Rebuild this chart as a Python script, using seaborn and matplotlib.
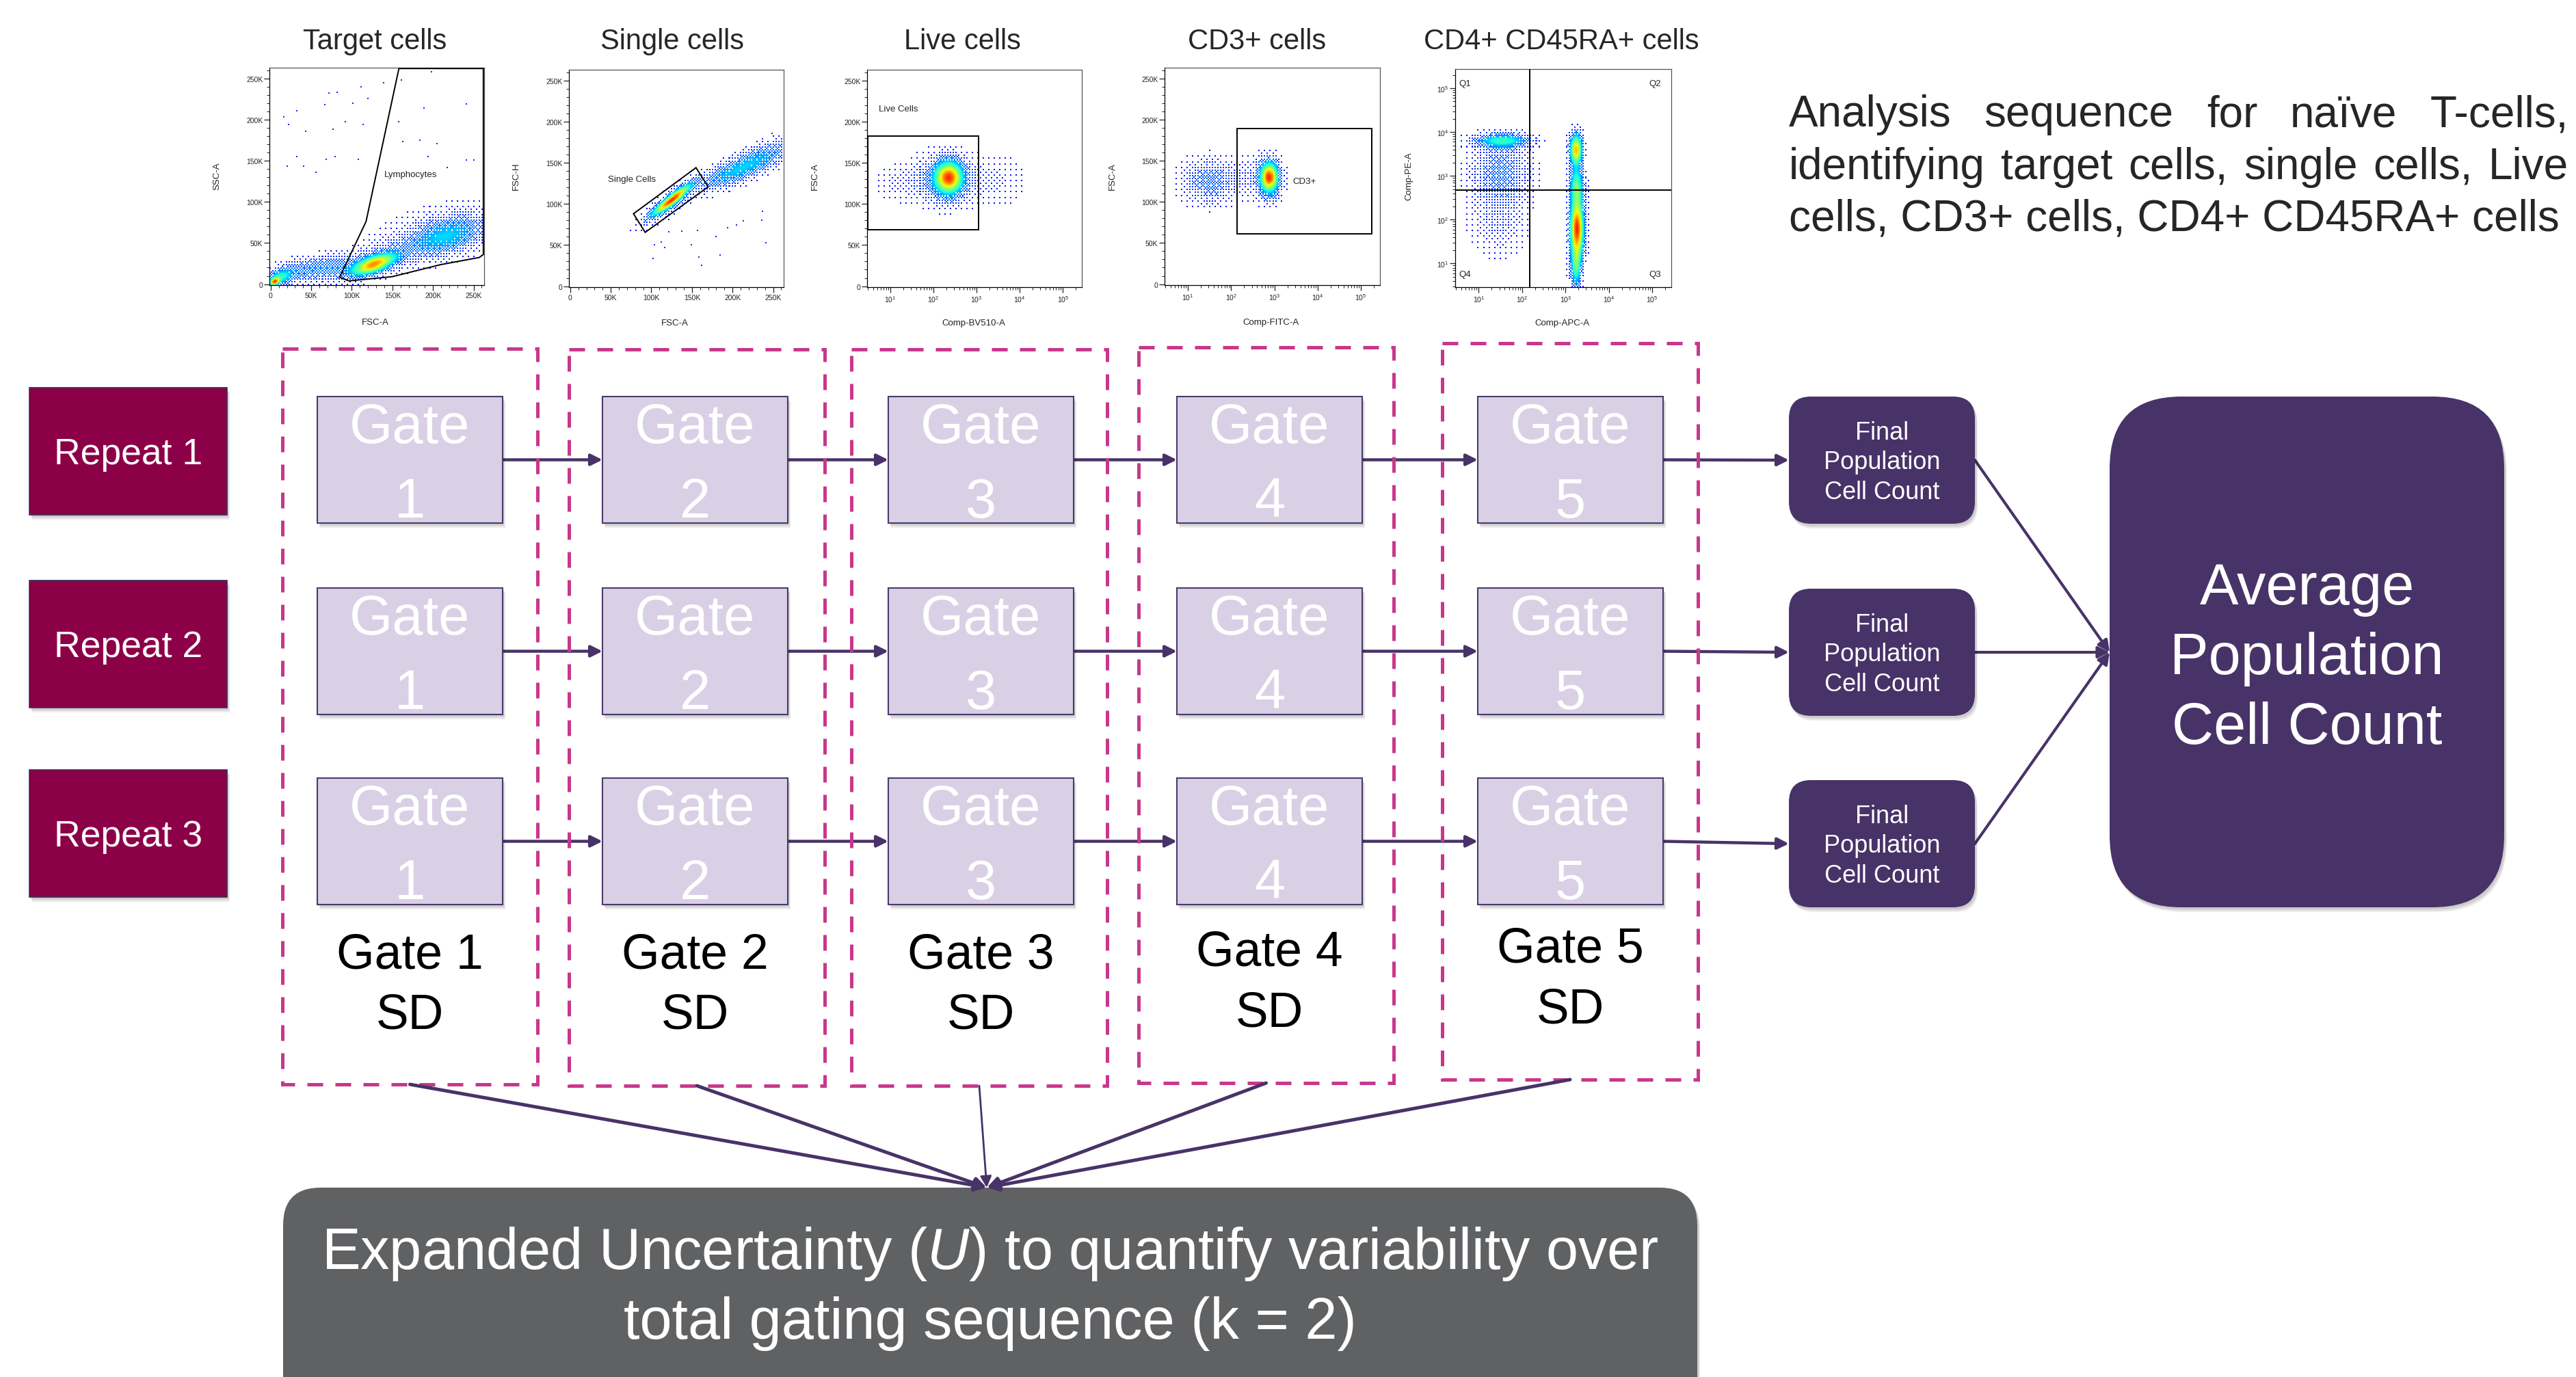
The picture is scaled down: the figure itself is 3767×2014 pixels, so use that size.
import numpy as np
import matplotlib
matplotlib.use("Agg")
import matplotlib.pyplot as plt
import seaborn as sns
from matplotlib.patches import Rectangle, FancyBboxPatch, Polygon
from matplotlib.ticker import (MultipleLocator, FuncFormatter, LogLocator,
                               LogFormatterMathtext, NullFormatter)

# ------------------------------------------------------------------ data
repeat_labels = ["Repeat 1", "Repeat 2", "Repeat 3"]
gate_numbers = ["1", "2", "3", "4", "5"]
sd_titles = ["Gate 1", "Gate 2", "Gate 3", "Gate 4", "Gate 5"]
final_label = ["Final", "Population", "Cell Count"]
average_label = ["Average", "Population", "Cell Count"]
uncertainty_label = [r"Expanded Uncertainty ($\mathit{U}$) to quantify variability over",
                     "total gating sequence (k = 2)"]
description_lines = [
    "Analysis sequence for naïve T-cells,",
    "identifying target cells, single cells, Live",
    "cells, CD3+ cells, CD4+ CD45RA+ cells",
]

panel_titles = ["Target cells", "Single cells", "Live cells", "CD3+ cells", "CD4+ CD45RA+ cells"]
panel_xlabels = ["FSC-A", "FSC-A", "Comp-BV510-A", "Comp-FITC-A", "Comp-APC-A"]
panel_ylabels = ["SSC-A", "FSC-H", "FSC-A", "FSC-A", "Comp-PE-A"]
panel_xlog = [False, False, True, True, True]
panel_ylog = [False, False, False, False, True]

# event populations: centre x, centre y, sd x, sd y, correlation, relative peak
# (linear channels in thousands, log channels in decades)
target_pops = np.array([
    [5, 3, 4, 3, 0.3, 1.0],
    [12, 9, 10, 6, 0.3, 0.40],
    [40, 17, 22, 9, 0.3, 0.18],
    [78, 21, 18, 9, 0.2, 0.15],
    [127, 24, 17, 8, 0.63, 0.95],
    [132, 30, 28, 14, 0.5, 0.12],
    [215, 58, 28, 14, 0.45, 0.30],
    [205, 62, 45, 22, 0.4, 0.06],
])
singlet_pops = np.array([
    [125, 105, 14.5, 11.2, 0.92, 1.0],
    [125, 103, 21.2, 16.6, 0.86, 0.15],
    [225, 150, 27.4, 15.1, 0.76, 0.28],
    [190, 135, 20, 12, 0.70, 0.14],
])
live_pops = np.array([
    [2.35, 132, 0.20, 12, 0.0, 1.0],
    [2.25, 130, 0.42, 18, 0.0, 0.16],
    [3.45, 128, 0.45, 20, 0.0, 0.035],
    [1.20, 125, 0.35, 14, 0.0, 0.035],
])
cd3_pops = np.array([
    [1.50, 125, 0.38, 16, 0.0, 0.16],
    [2.88, 130, 0.12, 11, 0.0, 1.0],
    [2.85, 128, 0.20, 16, 0.0, 0.18],
    [2.30, 130, 0.20, 18, 0.0, 0.04],
])
cd4_pops = np.array([
    [1.55, 3.80, 0.38, 0.10, 0.0, 0.35],
    [1.50, 3.10, 0.40, 0.45, 0.0, 0.12],
    [1.45, 2.00, 0.40, 0.50, 0.0, 0.05],
    [3.25, 3.60, 0.09, 0.22, 0.0, 0.75],
    [3.26, 2.75, 0.10, 0.30, 0.0, 0.45],
    [3.27, 1.80, 0.10, 0.40, 0.0, 0.95],
    [3.25, 0.95, 0.08, 0.30, 0.0, 0.40],
])

# isolated events (K units)
target_sparse_x = [16, 22.5, 32, 43, 67, 72, 82, 101, 111, 119.5, 139.5, 92, 114, 77, 32, 41, 20,
                   79.5, 108, 55.5, 68, 161, 189, 241.5, 198, 158, 162.6, 184, 205, 250, 241.5,
                   193.6, 217.6]
target_sparse_y = [203, 194, 211, 186, 218, 232, 233, 220, 240, 226, 244.5, 197, 194, 188, 155, 143,
                   143, 155, 152, 136, 152, 248, 214, 219, 258, 197, 173, 175, 171, 151, 151, 155, 142]
singlet_sparse_x = [102.5, 104, 112, 116.6, 121.6, 137.6, 149, 158.7, 161.5, 157, 180, 185, 194, 205,
                    213, 236, 241, 237, 249, 237]
singlet_sparse_y = [34, 50.7, 54, 47, 66, 67, 50, 35.4, 25.8, 68, 60, 37.7, 71, 74, 79, 80, 52.6, 91,
                    185.5, 179]

# gates
lymph_gate_x = [158, 117.5, 85, 96.4, 150, 209, 257, 262, 262]
lymph_gate_y = [262, 76, 8.3, 3.9, 9.1, 23.6, 32.4, 36, 262]
singlet_gate_x = [78, 155, 170, 92.4]
singlet_gate_y = [88, 144, 120.7, 65.4]
live_gate_x = [2.95, 1096]
live_gate_y = [68.2, 182.3]
cd3_gate_x = [135, 178000]
cd3_gate_y = [61.5, 189]
quad_x, quad_y = 150, 480

# ------------------------------------------------------------------ style
sns.set_style("white")
plt.rcParams["font.family"] = ["Liberation Sans", "DejaVu Sans"]
plt.rcParams["mathtext.fontset"] = "custom"
plt.rcParams["mathtext.rm"] = "Liberation Sans"
plt.rcParams["mathtext.it"] = "Liberation Sans:italic"

W, H = 3767, 2015
fig = plt.figure(figsize=(W / 100, H / 100), dpi=100)
fig.patch.set_facecolor("white")
ax = fig.add_axes([0, 0, 1, 1])
ax.set_xlim(0, W)
ax.set_ylim(H, 0)
ax.axis("off")

purple = "#483368"
lav = "#d9d0e6"
lav_edge = "#4b3b6b"
crimson = "#8c0048"
magenta = "#c8378c"
slate = "#606163"


def box(x0, y0, x1, y1, face, edge="none", lw=0, r=0, z=4, shadow=True):
    style = f"round,pad=0,rounding_size={r}" if r > 0 else "square,pad=0"
    if shadow:
        for dx, dy in [(2, 3), (3, 5), (4, 7)]:
            ax.add_patch(FancyBboxPatch((x0 + dx, y0 + dy), x1 - x0, y1 - y0,
                                        boxstyle=style, fc="black", ec="none",
                                        alpha=0.07, zorder=z - 0.5))
    ax.add_patch(FancyBboxPatch((x0, y0), x1 - x0, y1 - y0, boxstyle=style,
                                fc=face, ec=edge, lw=lw, zorder=z))


def arrow(p0, p1, lw=3.2, ms=25, z=3):
    ax.annotate("", xy=p1, xytext=p0,
                arrowprops=dict(arrowstyle="-|>", color=purple, lw=lw, mutation_scale=ms,
                                shrinkA=0, shrinkB=0), zorder=z)


# ------------------------------------------------------------------ repeats + gates
repeat_tops = [568, 850, 1127]
for lab, t in zip(repeat_labels, repeat_tops):
    box(43, t, 332, t + 186, crimson, edge="#3d2b5a", lw=1.2)
    ax.text(188, t + 111, lab, fontsize=38.5, color="white", ha="center", va="baseline", zorder=6)

gate_x0 = [464, 881, 1299, 1721, 2161]
gate_w, gate_h = 271, 185
gate_tops = [581, 861, 1139]
final_tops = [581, 862, 1142]
final_x0, final_x1 = 2616, 2888

for t, ft in zip(gate_tops, final_tops):
    yc = t + gate_h / 2
    for i, x0 in enumerate(gate_x0):
        box(x0, t, x0 + gate_w, t + gate_h, lav, edge=lav_edge, lw=1.5)
        cx = x0 + gate_w / 2
        ax.text(cx, t + 67, "Gate", fontsize=58.5, color="white", ha="center", va="baseline", zorder=6)
        ax.text(cx, t + 176, gate_numbers[i], fontsize=58.5, color="white", ha="center",
                va="baseline", zorder=6)
        if i < len(gate_x0) - 1:
            arrow((x0 + gate_w, yc), (gate_x0[i + 1], yc))
    arrow((gate_x0[-1] + gate_w, yc), (final_x0, ft + 93))

# dashed SD groups
dashed = [(413, 511, 786, 1587), (832, 512, 1206, 1589), (1245, 512, 1619, 1589),
          (1665, 509, 2038, 1585), (2109, 503, 2483, 1580)]
sd_base1 = [1417, 1417, 1417, 1413, 1408]
sd_base2 = [1505, 1505, 1505, 1502, 1497]
for i, (x0, y0, x1, y1) in enumerate(dashed):
    ax.add_patch(Rectangle((x0, y0), x1 - x0, y1 - y0, fill=False, ec=magenta, lw=3.6,
                           ls=(0, (4.6, 3.6)), zorder=3.5))
    cx = gate_x0[i] + gate_w / 2
    ax.text(cx, sd_base1[i], sd_titles[i], fontsize=51.5, ha="center", va="baseline", color="black")
    ax.text(cx, sd_base2[i], "SD", fontsize=51.5, ha="center", va="baseline", color="black")

# final counts + average
for ft in final_tops:
    box(final_x0, ft, final_x1, ft + 186, purple, r=32)
    for k, line in enumerate(final_label):
        ax.text((final_x0 + final_x1) / 2, ft + 62 + 43.5 * k, line, fontsize=26, color="white",
                ha="center", va="baseline", zorder=6)
    arrow((final_x1, ft + 93), (3085, 955), lw=3.0)

box(3085, 581, 3662, 1328, purple, r=105)
for k, line in enumerate(average_label):
    ax.text(3373.5, 884 + 102 * k, line, fontsize=61, color="white", ha="center", va="baseline", zorder=6)

# expanded uncertainty
box(414, 1738, 2482, 2200, slate, r=55)
for k, line in enumerate(uncertainty_label):
    ax.text(1448, 1856 + 102 * k, line, fontsize=61, color="white", ha="center", va="baseline", zorder=6)
target = (1443, 1738)
for i, (x0, y0, x1, y1) in enumerate(dashed):
    arrow(((x0 + x1) / 2, y1), target, lw=2.0 if i == 2 else 3.6, ms=25, z=5)

# description paragraph (justified)
renderer = fig.canvas.get_renderer()
para_x0, para_x1 = 2616, 3756
para_base = [185, 262, 338]
for k, line in enumerate(description_lines):
    if k == len(description_lines) - 1:
        ax.text(para_x0, para_base[k], line, fontsize=46, ha="left", va="baseline")
        continue
    words = line.split(" ")
    arts = [ax.text(0, para_base[k], w, fontsize=46, ha="left", va="baseline") for w in words]
    widths = [a.get_window_extent(renderer).width for a in arts]
    gap = (para_x1 - para_x0 - sum(widths)) / (len(words) - 1)
    x = para_x0
    for a, wdt in zip(arts, widths):
        a.set_x(x)
        x += wdt + gap

# ------------------------------------------------------------------ cytometry panels
panel_frames = [(394, 100, 708, 418), (832, 103, 1146, 421), (1268, 103, 1582, 421),
                (1703, 100, 2018, 418), (2128, 102, 2444, 421)]
title_cx = [548, 983, 1407, 1838, 2283]
ylabel_cx = [317, 755, 1192, 1627, 2060]
xlabel_c = [(549, 472), (987, 473), (1424, 473), (1859, 472), (2284, 473)]
lin_lim = (-1.5, 263)
log_lim = (10 ** 0.46, 10 ** 5.44)
pops_list = [target_pops, singlet_pops, live_pops, cd3_pops, cd4_pops]
jet = plt.get_cmap("jet")
bayer = (np.array([[0, 8, 2, 10], [12, 4, 14, 6], [3, 11, 1, 9], [15, 7, 13, 5]]) + 0.5) / 16


def k_fmt(v, _):
    return "0" if abs(v) < 1e-9 else f"{v:.0f}K"


def draw_density(fa, pops, xlog, ylog, n=156):
    """Dot-plot style density: ordered-dither the event density onto a fine grid."""
    xl, yl = fa.get_xlim(), fa.get_ylim()
    fx = np.log10 if xlog else (lambda v: np.asarray(v, float))
    fy = np.log10 if ylog else (lambda v: np.asarray(v, float))
    ex = np.linspace(fx(xl[0]), fx(xl[1]), n + 1)
    ey = np.linspace(fy(yl[0]), fy(yl[1]), n + 1)
    X, Y = np.meshgrid((ex[:-1] + ex[1:]) / 2, (ey[:-1] + ey[1:]) / 2)
    D = np.zeros_like(X)
    for cx, cy, sx, sy, rho, w in pops:
        dx, dy = (X - cx) / sx, (Y - cy) / sy
        D += w * np.exp(-0.5 * (dx * dx - 2 * rho * dx * dy + dy * dy) / (1 - rho ** 2))
    v = D / D.max()
    rgba = jet(0.125 + 0.74 * v)
    cover = np.clip(v / 0.28, 0, 1)
    thr = np.tile(bayer, (n // 4 + 1, n // 4 + 1))[:n, :n]
    rgba[..., 3] = (cover > thr).astype(float)
    EX = 10 ** ex if xlog else ex
    EY = 10 ** ey if ylog else ey
    fa.pcolormesh(EX, EY, rgba, shading="flat", rasterized=True, zorder=1)


panel_axes = []
for i, (x0, y0, x1, y1) in enumerate(panel_frames):
    fa = fig.add_axes([x0 / W, 1 - y1 / H, (x1 - x0) / W, (y1 - y0) / H])
    fa.set_facecolor("white")
    if panel_xlog[i]:
        fa.set_xscale("log")
        fa.set_xlim(*log_lim)
        fa.xaxis.set_major_locator(LogLocator(base=10, numticks=12))
        fa.xaxis.set_minor_locator(LogLocator(base=10, subs=np.arange(2, 10), numticks=12))
        fa.xaxis.set_major_formatter(LogFormatterMathtext())
        fa.xaxis.set_minor_formatter(NullFormatter())
    else:
        fa.set_xlim(*lin_lim)
        fa.xaxis.set_major_locator(MultipleLocator(50))
        fa.xaxis.set_minor_locator(MultipleLocator(10))
        fa.xaxis.set_major_formatter(FuncFormatter(k_fmt))
    if panel_ylog[i]:
        fa.set_yscale("log")
        fa.set_ylim(*log_lim)
        fa.yaxis.set_major_locator(LogLocator(base=10, numticks=12))
        fa.yaxis.set_minor_locator(LogLocator(base=10, subs=np.arange(2, 10), numticks=12))
        fa.yaxis.set_major_formatter(LogFormatterMathtext())
        fa.yaxis.set_minor_formatter(NullFormatter())
    else:
        fa.set_ylim(-1.2, 263)
        fa.yaxis.set_major_locator(MultipleLocator(50))
        fa.yaxis.set_minor_locator(MultipleLocator(10))
        fa.yaxis.set_major_formatter(FuncFormatter(k_fmt))
    fa.tick_params(which="major", direction="out", length=5.5, width=0.9, labelsize=7.5,
                   pad=1.5, colors="#222222", bottom=True, left=True, top=False, right=False)
    fa.tick_params(which="minor", direction="out", length=3, width=0.7, colors="#222222",
                   bottom=True, left=True, top=False, right=False)
    for s in ("left", "bottom"):
        fa.spines[s].set_color("black")
        fa.spines[s].set_linewidth(0.9)
    for s in ("top", "right"):
        fa.spines[s].set_color("#555555")
        fa.spines[s].set_linewidth(0.9)
    fa.grid(False)
    draw_density(fa, pops_list[i], panel_xlog[i], panel_ylog[i])
    panel_axes.append(fa)

    ax.text(title_cx[i], 72, panel_titles[i], fontsize=30, ha="center", va="baseline")
    ax.text(ylabel_cx[i], 258, panel_ylabels[i], fontsize=9.5, rotation=90, ha="center",
            va="center", color="#222222")
    ax.text(xlabel_c[i][0], xlabel_c[i][1], panel_xlabels[i], fontsize=9.5, ha="center",
            va="center", color="#222222")

gate_kw = dict(color="black", lw=1.4, zorder=4)
lab_kw = dict(fontsize=9.5, color="#222222", zorder=5)

# Target cells: lymphocyte gate
fa = panel_axes[0]
sns.scatterplot(x=target_sparse_x, y=target_sparse_y, ax=fa, s=3, marker="s", color="#1f1fff",
                linewidth=0, legend=False, zorder=2)
fa.add_patch(Polygon(np.column_stack([lymph_gate_x, lymph_gate_y]), closed=True, fill=False,
                     ec="black", lw=1.4, zorder=4))
fa.text(172.5, 133, "Lymphocytes", ha="center", va="center", **lab_kw)

# Single cells
fa = panel_axes[1]
sns.scatterplot(x=singlet_sparse_x, y=singlet_sparse_y, ax=fa, s=3, marker="s", color="#1f1fff",
                linewidth=0, legend=False, zorder=2)
fa.add_patch(Polygon(np.column_stack([singlet_gate_x, singlet_gate_y]), closed=True, fill=False,
                     ec="black", lw=1.4, zorder=4))
fa.text(76, 130, "Single Cells", ha="center", va="center", **lab_kw)

# Live cells
fa = panel_axes[2]
fa.add_patch(Rectangle((live_gate_x[0], live_gate_y[0]), live_gate_x[1] - live_gate_x[0],
                       live_gate_y[1] - live_gate_y[0], fill=False, ec="black", lw=1.4, zorder=4))
fa.text(10 ** 0.73, 216, "Live Cells", ha="left", va="center", **lab_kw)

# CD3+ cells
fa = panel_axes[3]
fa.add_patch(Rectangle((cd3_gate_x[0], cd3_gate_y[0]), cd3_gate_x[1] - cd3_gate_x[0],
                       cd3_gate_y[1] - cd3_gate_y[0], fill=False, ec="black", lw=1.4, zorder=4))
fa.text(10 ** 3.43, 125, "CD3+", ha="left", va="center", **lab_kw)

# CD4+ CD45RA+ quadrants
fa = panel_axes[4]
fa.axvline(quad_x, **gate_kw)
fa.axhline(quad_y, **gate_kw)
fa.text(10 ** 0.69, 10 ** 5.11, "Q1", ha="center", va="center", **lab_kw)
fa.text(10 ** 5.07, 10 ** 5.11, "Q2", ha="center", va="center", **lab_kw)
fa.text(10 ** 5.07, 10 ** 0.755, "Q3", ha="center", va="center", **lab_kw)
fa.text(10 ** 0.69, 10 ** 0.755, "Q4", ha="center", va="center", **lab_kw)

fig.savefig("out.png", dpi=100, facecolor="white")
